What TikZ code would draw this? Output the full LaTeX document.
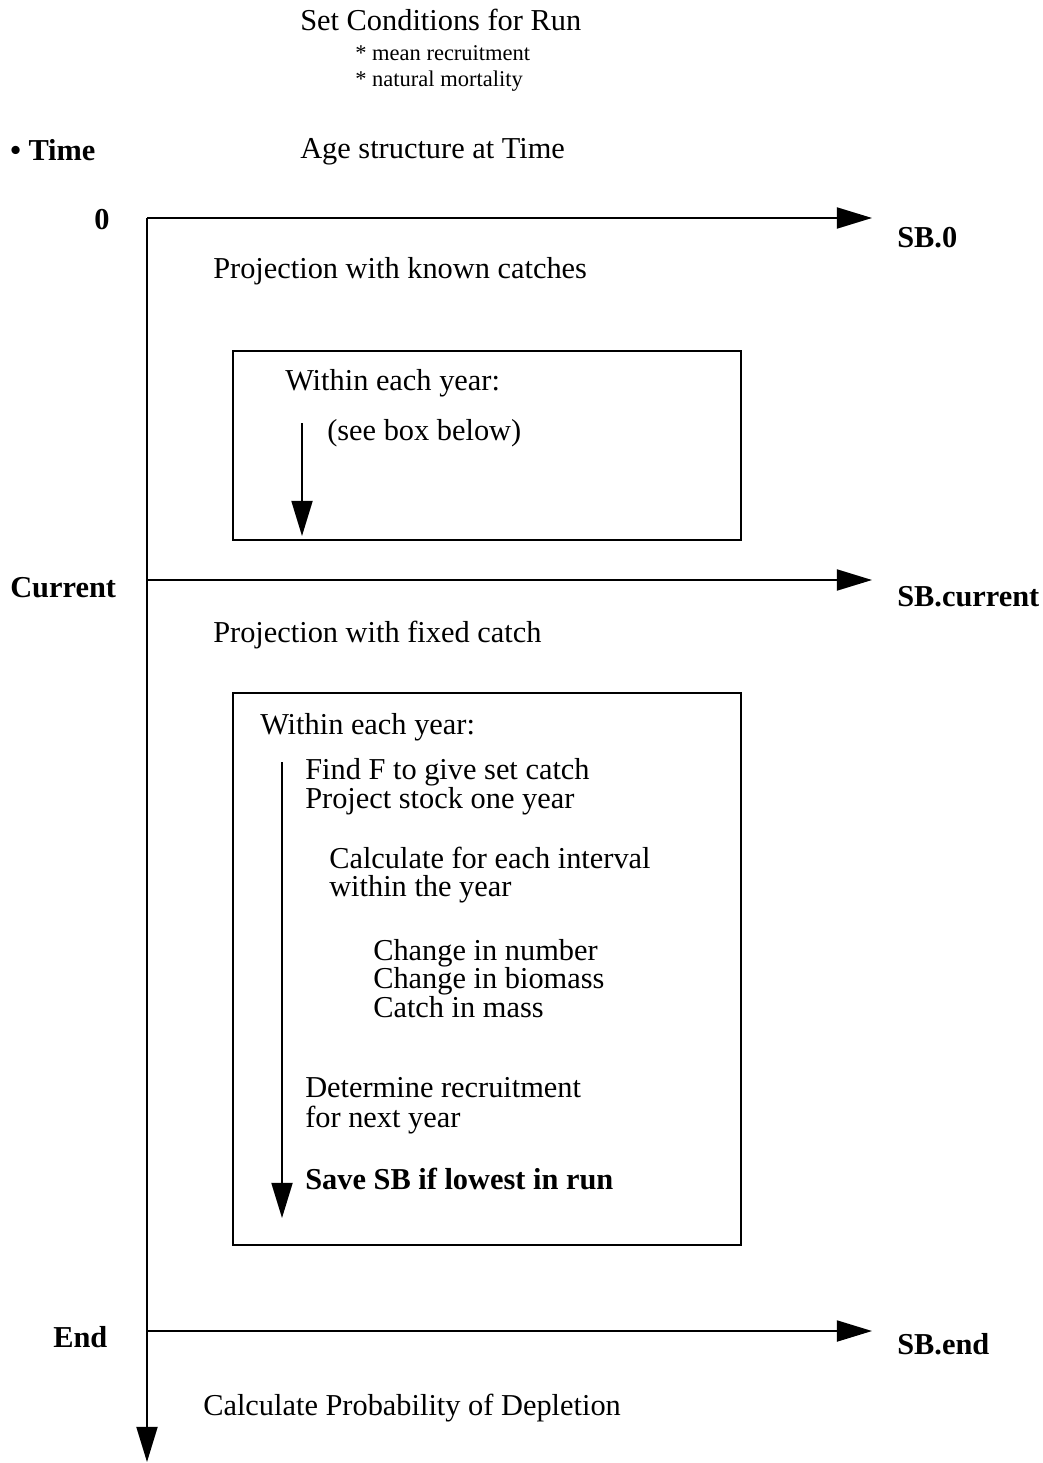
\documentclass[tikz,border=0pt]{standalone}
\usepackage{fontspec}
\setmainfont{Liberation Serif}
\usetikzlibrary{arrows.meta}
\begin{document}
\begin{tikzpicture}[x = 0.025cm, y = -0.025cm,
	txt/.style = {anchor = base west, inner sep = 0pt, font = \fontsize{21.6}{26}\selectfont},
	small/.style = {anchor = base west, inner sep = 0pt, font = \fontsize{16}{19}\selectfont},
	bld/.style = {txt, font = \fontsize{21.6}{26}\selectfont\bfseries},
	flow/.style = {line width = 1.2pt, -{Triangle[length = 25pt, width = 15pt]}},
	frame/.style = {draw, line width = 1.2pt}]
	\useasboundingbox (0,0) rectangle (1042,1463);

	% run conditions
	\node[txt] (cond) at (300,31) {Set Conditions for Run};
	\node[small] (rec) at (355,61) {* mean recruitment};
	\node[small] (mort) at (355,87) {* natural mortality};

	\node[bld] (time) at (10,161) {\textbullet\ Time};
	\node[txt] (age) at (300,159) {Age structure at Time};

	% time axis
	\coordinate (t0) at (147,218);
	\coordinate (tcur) at (147,580);
	\coordinate (tend) at (147,1331);
	\coordinate (tbot) at (147,1462);
	\coordinate (s0) at (872,218);
	\coordinate (scur) at (872,580);
	\coordinate (send) at (872,1331);

	\draw[flow] (t0) -- (tbot);
	\draw[flow] (t0) -- (s0);
	\draw[flow] (tcur) -- (scur);
	\draw[flow] (tend) -- (send);

	\node[bld] (zero) at (94,230) {0};
	\node[bld] (cur) at (10,597) {Current};
	\node[bld] (endt) at (53,1347) {End};
	\node[bld] (sb0) at (897,248) {SB.0};
	\node[bld] (sbcur) at (897,606) {SB.current};
	\node[bld] (sbend) at (897,1354) {SB.end};

	% known catches
	\node[txt] (known) at (213,279) {Projection with known catches};
	\draw[frame] (233,351) rectangle (741,540);
	\node[txt] (within1) at (285,391) {Within each year:};
	\node[txt] (see) at (327,440) {(see box below)};
	\coordinate (a1) at (302,423);
	\coordinate (b1) at (302,536);
	\draw[flow] (a1) -- (b1);

	% fixed catch
	\node[txt] (fixed) at (213,642) {Projection with fixed catch};
	\draw[frame] (233,693) rectangle (741,1245);
	\node[txt] (within2) at (260,734) {Within each year:};
	\coordinate (a2) at (282,762);
	\coordinate (b2) at (282,1218);
	\draw[flow] (a2) -- (b2);

	\node[txt] (findf) at (305,779) {Find F to give set catch};
	\node[txt] (proj) at (305,808) {Project stock one year};
	\node[txt] (calc) at (329,868) {Calculate for each interval};
	\node[txt] (wyear) at (329,896) {within the year};
	\node[txt] (num) at (373,960) {Change in number};
	\node[txt] (bio) at (373,988) {Change in biomass};
	\node[txt] (mass) at (373,1017) {Catch in mass};
	\node[txt] (det) at (305,1097) {Determine recruitment};
	\node[txt] (next) at (305,1127) {for next year};
	\node[bld] (save) at (305,1189) {Save SB if lowest in run};

	\node[txt] (prob) at (203,1415) {Calculate Probability of Depletion};
\end{tikzpicture}
\end{document}
